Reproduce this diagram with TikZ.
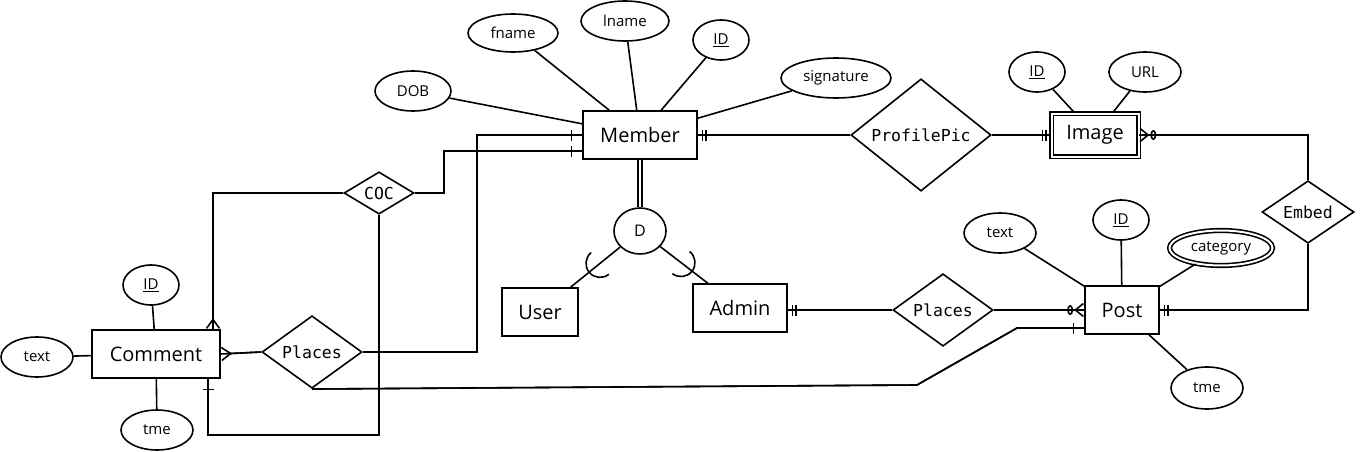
\documentclass[tikz,border=0pt]{standalone}
\usepackage{fontspec}
\setmainfont{Open Sans}
\newfontfamily\relfont{DejaVu Sans Mono}
\usetikzlibrary{shapes.geometric,arrows.meta,calc}

\begin{document}
\begin{tikzpicture}[x=1pt,y=-1pt,line width=1.6pt,
		entity/.style={draw,rectangle,inner sep=0pt,font=\fontsize{20}{24}\selectfont},
		weak/.style={entity,double,double distance=2pt},
		attr/.style={draw,ellipse,inner sep=0pt,minimum width=#1,minimum height=40pt,font=\fontsize{15}{18}\selectfont},
		attr/.default=72pt,
		rel/.style={draw,diamond,inner sep=0pt,font=\relfont\fontsize{16.5}{19}\selectfont},
		one/.style={postaction={draw,-{Bar[width=11pt,line width=1.6pt,sep=10pt]}}},
		onlyone/.style={postaction={draw,-{Bar[width=11pt,line width=1.6pt,sep=2pt]Bar[width=11pt,line width=1.6pt,sep=4pt]}}},
		many/.style={postaction={draw,-{Straight Barb[reversed,length=9pt,width=13pt,line width=1.6pt]}}},
		zeromany/.style={postaction={draw,-{Circle[open,length=6pt,width=10pt,line width=1.6pt,sep=1pt]Straight Barb[reversed,length=8pt,width=13pt,line width=1.6pt]}}}]
		\useasboundingbox (0,0) rectangle (1363,452);
		% Member
		\node[entity,minimum width=114pt,minimum height=48pt] (member) at (640,135) {Member};
		\node[attr=76pt] (dob) at (413,91) {DOB};
		\node[attr=90pt,minimum height=38pt] (fname) at (513,33) {fname};
		\node[attr=88pt] (lname) at (625,21) {lname};
		\node[attr=56pt] (memid) at (721,40) {\underline{ID}};
		\node[attr=110pt] (sig) at (836,78) {signature};
		\foreach \a in {dob,fname,lname,memid,sig} \draw (\a) -- (member);
		% Image
		\node[rel,minimum width=140pt,minimum height=86pt] (profpic) at (921,135) {ProfilePic};
		\node[weak,minimum width=87pt,minimum height=43pt] (image) at (1095,135) {Image};
		\node[attr=56pt] (imgid) at (1037,72) {\underline{ID}};
		\node[attr] (url) at (1145,72) {URL};
		\foreach \a in {imgid,url} \draw (\a) -- (image);
		\draw[onlyone] (profpic) -- (member);
		\draw[onlyone] (profpic) -- (image);
		% Post
		\node[rel,minimum width=92pt,minimum height=52pt] (embed) at (1308,212) {Embed};
		\node[entity,minimum width=74pt,minimum height=48pt] (post) at (1122,310) {Post};
		\node[attr] (posttext) at (1000,233) {text};
		\node[attr=56pt] (postid) at (1121,220) {\underline{ID}};
		\node[draw,ellipse,double,double distance=2pt,inner sep=0pt,minimum width=103pt,minimum height=35pt,font=\fontsize{15}{18}\selectfont] (category) at (1221,248) {category};
		\node[attr,minimum height=42pt] (posttme) at (1207,388) {tme};
		\foreach \a in {posttext,postid,category,posttme} \draw (\a) -- (post);
		\draw[zeromany] (embed.north) |- (image.east);
		\draw[onlyone] (embed.south) |- (post.east);
		% Admin, User
		\node[entity,minimum width=94pt,minimum height=48pt] (admin) at (740,308) {Admin};
		\node[entity,minimum width=76pt,minimum height=48pt] (user) at (540,312) {User};
		\node[draw,ellipse,inner sep=0pt,minimum width=52pt,minimum height=46pt,font=\fontsize{16}{19}\selectfont] (d) at (640,231) {D};
		\draw[double,double distance=2.4pt,line width=1.5pt] (member) -- (d);
		\draw (d) -- (user);
		\draw (d) -- (admin);
		\draw ($(d)!0.4!(user)$) ++(129:14pt) arc[start angle=129,end angle=309,radius=14pt];
		\draw ($(d)!0.41!(admin)$) ++(232:14pt) arc[start angle=232,end angle=412,radius=14pt];
		\node[rel,minimum width=100pt,minimum height=52pt] (placesb) at (943,310) {Places};
		\draw[onlyone] (placesb.west) -- (placesb.west -| admin.east);
		\draw[zeromany] (placesb.east) -- (post.west);
		% Comment
		\node[entity,minimum width=128pt,minimum height=48pt] (comment) at (156,354) {Comment};
		\node[attr=56pt] (comid) at (151,285) {\underline{ID}};
		\node[attr] (comtext) at (37,357) {text};
		\node[attr] (comtme) at (157,430) {tme};
		\foreach \a in {comid,comtext,comtme} \draw (\a) -- (comment);
		\node[rel,minimum width=100pt,minimum height=60pt] (placesa) at (312,352) {Places};
		\node[rel,minimum width=70pt,minimum height=42pt] (coc) at (379,193) {COC};
		\coordinate (bend1) at (917,385);
		\coordinate (bend2) at (1017,328);
		\draw[many] (placesa.west) -- (comment.east);
		\draw[one] (placesa.east) -- ++(114,0) |- (member.west);
		\draw[one] (placesa.south) -- (bend1) -- (bend2) -- ([yshift=-18pt]post.west);
		\draw[many] (coc.west) -| ([xshift=57pt]comment.north);
		\draw[one] (coc.east) -- ++(29,0) |- ([yshift=-16pt]member.west);
		\draw[one] (coc.south) -- ++(0,220) -| ([xshift=52pt]comment.south);
\end{tikzpicture}
\end{document}
